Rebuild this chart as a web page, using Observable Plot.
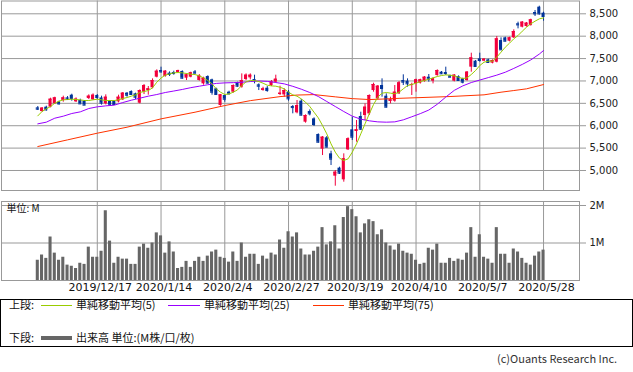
<!DOCTYPE html>
<html><head><meta charset="utf-8">
<script src="https://cdn.jsdelivr.net/npm/d3@7"></script>
<script src="https://cdn.jsdelivr.net/npm/@observablehq/plot@0.6"></script>
<style>
body{margin:0;background:#fff;}
#wrap{position:relative;width:633px;height:372px;overflow:hidden;background:#fff;font-family:"Noto Sans CJK JP",sans-serif;color:#111;}
#top,#vol{position:absolute;left:0;}
#top{top:0}
#vol{top:195px}
#legend{position:absolute;left:0;top:299px;width:631px;height:46px;border:1px solid #000;font-size:11px;}
.lt{position:absolute;white-space:nowrap;line-height:12px;}
.ln{position:absolute;height:1px;}
#copy{position:absolute;left:497px;top:350px;font-size:11px;color:#333;white-space:nowrap;}
</style></head>
<body><div id="wrap">
<div id="top"></div><div id="vol"></div>
<div id="legend">
  <div class="lt" style="left:8px;top:-2px">上段:</div>
  <div class="ln" style="left:40px;top:5px;width:31px;background:#99cc00"></div>
  <div class="lt" style="left:75px;top:-2px">単純移動平均(5)</div>
  <div class="ln" style="left:167px;top:5px;width:32px;background:#9900ff"></div>
  <div class="lt" style="left:203px;top:-2px">単純移動平均(25)</div>
  <div class="ln" style="left:312px;top:5px;width:31px;background:#ff3300"></div>
  <div class="lt" style="left:347px;top:-2px">単純移動平均(75)</div>
  <div class="lt" style="left:8px;top:31px">下段:</div>
  <div class="ln" style="left:40px;top:36px;width:31px;height:4px;background:#666"></div>
  <div class="lt" style="left:75px;top:31px">出来高 単位:(M株/口/枚)</div>
</div>
<div id="copy">(c)Ouants Research Inc.</div>
</div>
<script>
// ---- data ----
const tickIdx = [14, 29, 44, 59, 74, 89, 104, 119];
const tickLabels = ["2019/12/17","2020/1/14","2020/2/4","2020/2/27","2020/3/19","2020/4/10","2020/5/7","2020/5/28"];
const priceTicks = [5000, 5500, 6000, 6500, 7000, 7500, 8000, 8500];
const volTicks = [1, 2];

const open = [6399,6317,6414,6414,6488,6526,6563,6622,6682,6533,6563,6548,6607,6578,6675,6620,6488,6541,6541,6533,
6578,6727,6764,6712,6503,6749,6786,6846,7084,7233,7099,7174,7188,7188,7211,7062,7084,7203,7010,6935,
7099,7025,6824,6451,6674,6749,6749,6957,6860,7032,7069,7032,6913,6786,6838,6898,6972,6697,6689,6749,
6429,6288,6548,6079,6317,6153,5804,5476,5729,5372,4873,5052,4791,5461,5908,5871,6206,6228,6265,6786,
6600,6898,6660,6541,6548,6712,7010,6995,6898,6936,6950,6987,7084,6995,7121,7196,7188,7114,6995,7099,
7047,7010,7308,7442,7494,7442,7471,7397,7419,7903,7963,7888,7963,8276,8201,8216,8239,8529,8648,8514];
const high = [6429,6407,6436,6615,6637,6548,6660,6652,6704,6622,6593,6563,6690,6712,6697,6660,6690,6560,6556,6682,
6742,6742,6780,6727,6801,6920,6876,7047,7248,7308,7233,7203,7218,7240,7226,7159,7196,7233,7144,7084,
7114,7040,6838,6697,6689,6771,6913,6972,7158,7158,7158,7129,6935,6860,6875,7009,7129,6883,6823,6786,
6451,6563,6585,6243,6354,6176,5818,5759,5759,5431,5000,5074,5372,5729,6191,6116,6302,6489,6690,6950,
6898,7047,6712,6638,6898,6988,7137,7047,6950,7040,7040,7099,7144,7069,7248,7211,7308,7129,7144,7114,
7062,7211,7620,7457,7620,7500,7486,7471,7993,7963,7978,7978,8142,8313,8328,8306,8380,8574,8670,8536];
const low = [6340,6302,6325,6399,6474,6459,6526,6563,6548,6518,6488,6459,6585,6563,6585,6460,6465,6455,6460,6511,
6563,6637,6690,6585,6488,6697,6682,6824,7069,7174,7084,7099,7129,7180,7040,7010,7070,7159,6995,6906,
6935,6682,6675,6436,6525,6689,6726,6860,6838,7009,7024,6935,6786,6771,6749,6875,6950,6674,6637,6548,
6266,6265,6220,6057,6220,5982,5610,5334,5506,5111,4649,4910,4739,5446,5670,5632,5893,6116,6228,6749,
6578,6638,6399,6489,6526,6697,6898,6861,6675,6749,6930,6972,6973,6935,7106,7144,7121,7069,6980,6995,
6935,6995,7196,7308,7419,7430,7397,7382,7404,7680,7873,7873,7948,8164,8186,8201,8224,8440,8470,8335];
const close = [6369,6392,6354,6593,6622,6488,6622,6593,6607,6593,6488,6459,6660,6682,6630,6505,6637,6466,6474,6637,
6727,6682,6697,6637,6786,6898,6824,7010,7218,7203,7218,7144,7166,7233,7062,7136,7181,7174,7114,7062,
6950,6749,6697,6689,6592,6711,6898,6883,7009,7129,7129,7009,6883,6823,6786,6980,7039,6726,6786,6600,
6405,6451,6235,6228,6265,6027,5632,5744,5521,5253,4962,4940,5260,5707,5744,5908,5923,6414,6675,6921,
6883,6831,6414,6578,6749,6958,6973,6936,6921,7025,7025,7084,7040,7047,7233,7159,7166,7084,7129,7010,
6973,7196,7516,7323,7457,7486,7412,7457,7941,7695,7888,7963,8104,8253,8313,8291,8365,8499,8499,8440];
// volume in millions
const volume = [0.54,0.68,0.59,1.16,0.73,0.54,0.62,0.41,0.38,0.32,0.46,0.43,0.89,0.62,0.62,0.78,1.86,1.05,0.46,0.62,
0.57,0.57,0.43,0.43,0.89,0.97,0.86,1.00,1.27,1.19,0.73,1.03,0.76,0.32,0.35,0.51,0.35,0.51,0.62,0.51,
0.65,0.76,0.81,0.62,0.59,0.49,0.76,0.51,1.00,0.62,0.70,0.70,0.43,0.65,0.57,0.73,0.68,1.08,0.86,1.30,
1.16,1.27,0.84,0.68,0.68,0.78,0.89,1.41,0.95,1.03,1.46,0.84,1.68,1.97,1.89,1.70,1.27,1.51,1.62,1.57,
1.22,1.35,1.00,0.92,0.81,0.97,0.78,0.73,0.70,0.54,0.43,0.46,0.86,0.81,0.97,0.46,0.46,0.59,0.51,0.57,
0.54,0.73,1.41,0.62,1.22,0.62,0.57,0.46,1.41,0.70,0.70,0.46,0.84,0.76,0.59,0.46,0.41,0.65,0.76,0.81];
const ma5 = [6220,6317,6377,6429,6503,6548,6578,6585,6593,6585,6578,6563,6563,6578,6593,6578,6563,6563,6563,6578,
6608,6630,6660,6690,6742,6764,6786,6846,6972,7065,7130,7158,7181,7188,7181,7166,7151,7143,7114,7069,
7009,6935,6823,6749,6697,6711,6749,6801,6898,6980,7009,7009,6987,6950,6905,6890,6883,6860,6823,6749,
6690,6660,6600,6526,6429,6302,6176,6005,5818,5595,5409,5275,5223,5260,5409,5595,5818,6042,6265,6474,
6638,6727,6742,6727,6712,6749,6824,6898,6920,6950,6987,7010,7040,7069,7099,7121,7136,7129,7114,7084,
7054,7069,7144,7233,7345,7419,7442,7442,7531,7643,7754,7844,7941,8015,8112,8201,8276,8335,8387,8410];
const ma25Idx = [0,2,4,6,8,10,12,14,16,18,20,22,24,26,28,30,32,34,36,38,40,42,44,46,48,50,52,54,56,58,
60,62,64,66,68,70,72,74,76,78,80,82,84,86,88,90,92,94,96,98,100,102,104,106,108,110,112,114,116,118,119];
const ma25 = [6042,6079,6168,6213,6273,6310,6384,6422,6444,6459,6518,6570,6615,6660,6697,6742,6775,6810,6850,6883,6915,6945,6957,6962,6970,6987,7000,6990,6965,6935,
6880,6816,6742,6653,6541,6429,6317,6213,6146,6109,6086,6079,6086,6131,6200,6270,6350,6480,6640,6790,6890,6965,7020,7075,7130,7195,7280,7370,7470,7600,7680];
const ma75Idx = [0,7,14,21,29,37,44,50,57,61,65,70,74,78,81,85,89,97,105,109,112,115,119];
const ma75 = [5535,5684,5833,5967,6153,6302,6451,6560,6650,6685,6695,6645,6605,6585,6595,6612,6625,6652,6690,6749,6786,6824,6920];

// ---- build ----
const RED = "#f2003c", BLUE = "#003399", GRID = "#999";
const bars = open.map((o, i) => ({i, o, h: high[i], l: low[i], c: close[i], up: close[i] >= o}));
const vols = volume.map((v, i) => ({i, v}));
const xDom = [-8.54, 127.46];
const hw = 0.36;

const topPlot = Plot.plot({
  width: 633, height: 191, marginTop: 0.5, marginBottom: 1, marginLeft: 1, marginRight: 54,
  style: {background: "transparent", fontFamily: "DejaVu Sans", fontSize: "10px", overflow: "visible"},
  x: {domain: xDom, axis: null},
  y: {domain: [4553, 8786], axis: null},
  marks: [
    Plot.gridY(priceTicks, {stroke: GRID, strokeOpacity: 1}),
    Plot.gridX(tickIdx, {stroke: GRID, strokeOpacity: 1}),
    Plot.frame({stroke: GRID}),
    Plot.axisY(priceTicks, {anchor: "right", tickSize: 6, tickPadding: 4, tickFormat: d3.format(","), stroke: GRID, fill: "#222", label: null}),
    Plot.ruleX(bars, {x: "i", y1: "l", y2: "h", stroke: d => d.up ? RED : BLUE, strokeWidth: 1}),
    Plot.rect(bars, {x1: d => d.i - hw, x2: d => d.i + hw, y1: "o", y2: "c", fill: d => d.up ? RED : BLUE}),
    Plot.ruleY(bars, {x1: d => d.i - hw, x2: d => d.i + hw, y: "c", stroke: d => d.up ? RED : BLUE}),
    Plot.line(ma75, {x: (d, k) => ma75Idx[k], y: d => d, stroke: "#ff3300", strokeWidth: 1}),
    Plot.line(ma25, {x: (d, k) => ma25Idx[k], y: d => d, stroke: "#9900ff", strokeWidth: 1}),
    Plot.line(ma5, {x: (d, k) => k, y: d => d, stroke: "#99cc00", strokeWidth: 1})
  ]
});
document.getElementById("top").appendChild(topPlot);

const labelOf = new Map(tickIdx.map((d, k) => [d, tickLabels[k]]));
const volPlot = Plot.plot({
  width: 633, height: 101, marginTop: 6, marginBottom: 16, marginLeft: 1, marginRight: 54,
  style: {background: "transparent", fontFamily: "DejaVu Sans", fontSize: "10px", overflow: "visible"},
  x: {domain: xDom, axis: null},
  y: {domain: [0, 2.107], axis: null},
  marks: [
    Plot.gridY(volTicks, {stroke: GRID, strokeOpacity: 1}),
    Plot.gridX(tickIdx, {stroke: GRID, strokeOpacity: 1}),
    Plot.frame({stroke: GRID}),
    Plot.axisY(volTicks, {anchor: "right", tickSize: 6, tickPadding: 4, tickFormat: d => d + "M", stroke: GRID, fill: "#222", label: null}),
    Plot.axisX(tickIdx, {anchor: "bottom", tickSize: 0, tickPadding: 3, dx: 3, tickFormat: d => labelOf.get(d), fill: "#111", fontSize: 11, label: null}),
    Plot.rectY(vols, {x1: d => d.i - hw, x2: d => d.i + hw, y: "v", fill: "#666"}),
    Plot.text(["単位: M"], {frameAnchor: "top-left", dx: 5, dy: 3, text: d => d, textAnchor: "start", lineAnchor: "top", fontFamily: "Noto Sans CJK JP", fontSize: 10, fill: "#111"})
  ]
});
document.getElementById("vol").appendChild(volPlot);
</script>
</body></html>
